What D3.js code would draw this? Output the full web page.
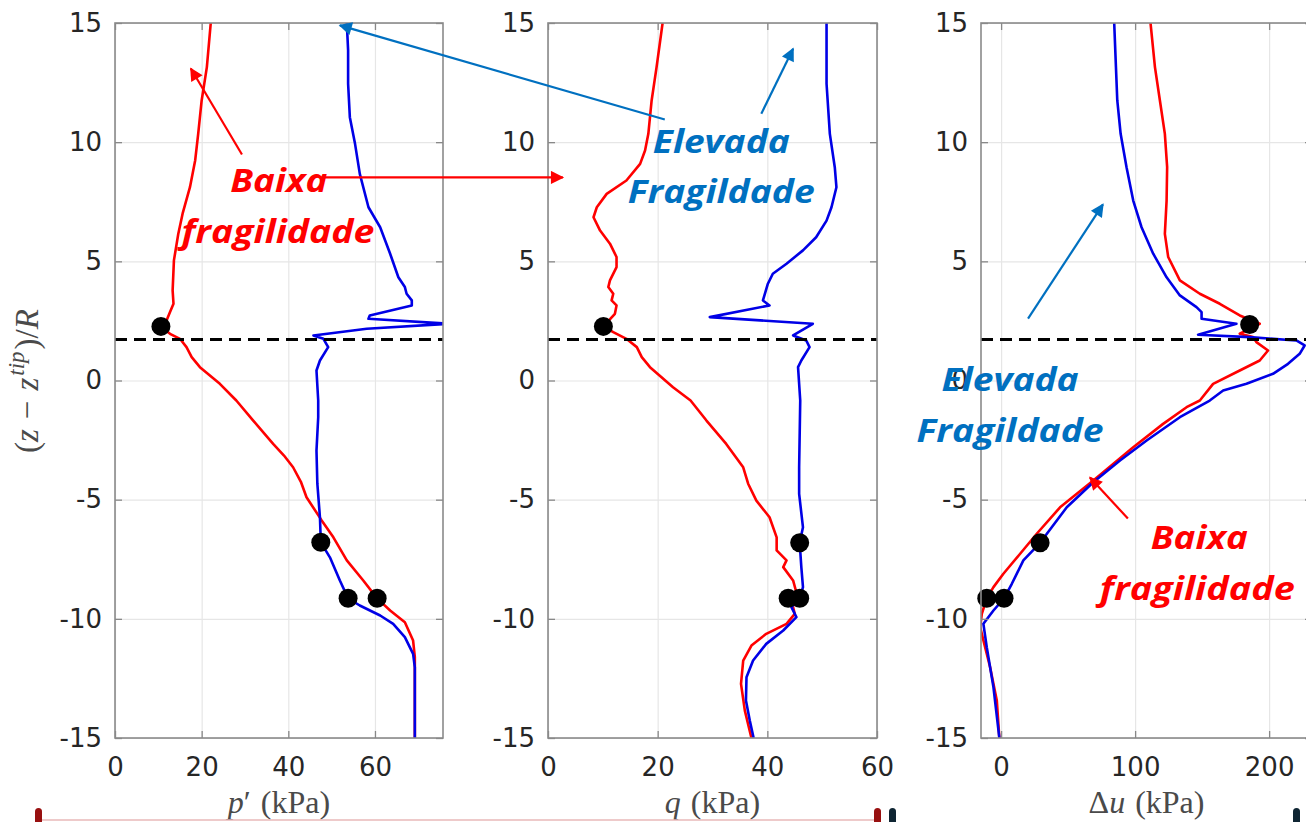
<!DOCTYPE html>
<html>
<head>
<meta charset="utf-8">
<script src="https://cdn.jsdelivr.net/npm/d3@7"></script>
<style>
  html, body { margin: 0; padding: 0; background: #fff; overflow: hidden; }
  svg { display: block; }
</style>
</head>
<body>
<svg id="chart" width="1306" height="822"></svg>
<script>
// ---------------- DATA ----------------
const zTicks = [-15, -10, -5, 0, 5, 10, 15];
const pTicks = [0, 20, 40, 60];
const qTicks = [0, 20, 40, 60];
const duTicks = [0, 100, 200];
const tipLevel = 1.72; // dashed line (z - z_tip)/R

// p' (kPa) vs (z - z_tip)/R : Baixa fragilidade (red)
const pLow = [[22.1,15],[21.2,13.15],[20.0,11.75],[19.2,10.35],[18.5,9.23],[17.3,8.11],[15.6,7.0],[14.6,6.15],[13.6,5.04],[13.3,3.78],[13.5,3.22],[12.7,2.87],[11.9,2.52],[10.6,2.27],[12.7,1.96],[15.0,1.75],[16.5,1.40],[17.7,0.98],[19.6,0.56],[24.2,-0.14],[28.0,-0.84],[31.9,-1.68],[36.5,-2.66],[39.0,-3.15],[41.1,-3.64],[42.9,-4.25],[44.2,-4.9],[47.7,-5.87],[50.4,-6.58],[53.5,-7.55],[57.3,-8.39],[60.5,-9.14],[63.5,-9.65],[66.9,-10.14],[68.8,-10.91],[69.2,-11.61],[69.2,-15]];
// p' : Elevada fragilidade (blue)
const pHigh = [[53.5,15],[53.8,13.85],[53.8,12.45],[54.2,11.05],[55.4,9.93],[56.5,8.67],[58.5,7.27],[61.2,6.43],[63.5,5.32],[65.4,4.33],[66.9,3.92],[67.3,3.64],[68.5,3.36],[68.5,3.15],[58.8,2.73],[58.5,2.59],[77,2.38],[58.1,2.17],[45.8,1.89],[48.1,1.75],[49.2,1.40],[47.3,0.84],[46.5,0.42],[46.9,-0.84],[46.9,-1.54],[46.5,-2.94],[46.7,-4.33],[47.3,-5.74],[47.5,-6.79],[49.6,-7.42],[51.9,-8.39],[53.8,-9.14],[56.5,-9.44],[61.2,-9.86],[64.2,-10.21],[66.9,-10.77],[68.8,-11.47],[69.2,-12.03],[69.2,-15]];
const pMarkers = [[10.6,2.27],[47.5,-6.79],[53.8,-9.14],[60.5,-9.14]];

// q (kPa) : red
const qLow = [[20.9,15],[19.8,13.15],[18.9,11.75],[18.3,10.35],[17.7,9.65],[16.8,9.09],[14.3,8.39],[10.7,7.83],[8.9,7.27],[8.3,6.85],[9.5,6.29],[11.3,5.74],[12.5,5.18],[12.5,4.76],[11.3,4.20],[11.0,3.92],[11.9,3.64],[11.6,3.36],[12.5,3.15],[12.2,2.80],[10.1,2.27],[11.9,2.03],[14.3,1.75],[16.2,1.40],[17.1,0.98],[18.6,0.56],[22.8,-0.28],[26.0,-0.84],[28.9,-1.68],[32.5,-2.66],[35.6,-3.64],[36.5,-4.33],[38.0,-5.04],[40.4,-5.74],[41.7,-6.58],[41.7,-7.13],[43.5,-7.55],[42.9,-7.83],[44.7,-8.39],[45.2,-8.81],[44.4,-9.23],[45.0,-9.79],[43.5,-10.21],[39.8,-10.63],[37.1,-11.12],[35.6,-11.75],[35.2,-12.73],[35.9,-13.85],[37.1,-15]];
// q : blue
const qHigh = [[50.8,15],[50.8,12.45],[51.4,10.35],[52.3,8.95],[52.6,8.11],[51.7,7.27],[50.8,6.71],[48.9,6.01],[46.5,5.46],[43.5,4.90],[41.0,4.48],[40.1,4.06],[39.2,3.36],[40.4,3.15],[29.5,2.66],[48.3,2.38],[44.7,1.89],[47.1,1.68],[47.7,1.40],[46.2,0.84],[45.6,0.56],[46.0,-0.84],[45.9,-2.24],[45.8,-3.64],[45.8,-4.76],[46.5,-6.16],[45.9,-6.81],[46.2,-7.83],[46.5,-8.67],[45.9,-9.14],[44.4,-9.51],[45.3,-9.93],[42.9,-10.49],[39.8,-11.05],[37.4,-11.75],[36.2,-12.45],[36.1,-13.43],[36.8,-14.27],[37.5,-15]];
const qMarkers = [[10.1,2.27],[45.9,-6.81],[43.8,-9.14],[45.9,-9.14]];

// Δu (kPa) : red
const duLow = [[111.5,15],[114.8,13.15],[118.5,11.75],[122.2,10.35],[123.9,8.95],[123.5,7.55],[122.2,6.15],[124.7,5.18],[133.4,4.20],[148.3,3.64],[163.2,3.22],[178.1,2.73],[193.0,2.38],[178.1,1.96],[188.0,1.82],[190.5,1.61],[199.2,1.26],[193.0,0.84],[178.1,0.42],[158.2,-0.14],[148.3,-0.84],[138.4,-1.12],[120.9,-1.82],[98.6,-2.80],[68.8,-4.20],[44.0,-5.32],[26.6,-6.43],[14.2,-7.27],[1.7,-8.11],[-5.7,-8.67],[-10.7,-9.14],[-14.4,-9.79],[-15.6,-10.35],[-13.2,-10.91],[-8.2,-12.03],[-3.2,-13.43],[-1.3,-15]];
// Δu : blue
const duHigh = [[84.4,15],[85.7,13.15],[86.7,11.75],[89.2,10.35],[93.6,8.95],[98.6,7.55],[104.8,6.43],[113.5,5.32],[123.5,4.33],[133.4,3.57],[145.8,3.08],[149.6,2.87],[149.6,2.59],[175.6,2.38],[147.0,1.92],[185.5,1.82],[220.3,1.68],[226.5,1.47],[222.8,1.12],[214.1,0.70],[202.9,0.28],[183.1,-0.14],[165.7,-0.42],[155.7,-0.84],[133.4,-1.54],[108.6,-2.52],[88.7,-3.36],[68.8,-4.27],[49.0,-5.32],[29.1,-6.81],[16.6,-7.55],[8.0,-8.53],[2.2,-9.14],[-5.7,-9.65],[-13.2,-10.21],[-10.7,-11.19],[-5.7,-12.87],[-1.3,-15]];
const duMarkers = [[185.5,2.35],[29.1,-6.81],[-10.7,-9.14],[2.2,-9.14]];

// annotations (panel index, x value, z value)
const annoTexts = [
  {panel:0, x:37.8, z:7.89, text:"Baixa", color:"red", w:97},
  {panel:0, x:37.6, z:5.79, text:"fragilidade", color:"red", w:193},
  {panel:1, x:31.6, z:9.53, text:"Elevada", color:"blue", w:137},
  {panel:1, x:31.6, z:7.43, text:"Fragildade", color:"blue", w:187},
  {panel:2, x:6.7, z:-0.42, text:"Elevada", color:"blue", w:137},
  {panel:2, x:6.7, z:-2.60, text:"Fragildade", color:"blue", w:187},
  {panel:2, x:147.9, z:-7.05, text:"Baixa", color:"red", w:97},
  {panel:2, x:146.4, z:-9.23, text:"fragilidade", color:"red", w:195}
];
const annoArrows = [
  {from:[0,29.3,9.48], to:[0,17.5,13.09], color:"red"},
  {from:[0,47.8,8.52], to:[1,2.7,8.52], color:"red"},
  {from:[1,21.3,10.95], to:[0,51.9,14.9], color:"blue"},
  {from:[1,38.9,11.19], to:[1,44.7,13.92], color:"blue"},
  {from:[2,20.1,2.60], to:[2,76.0,7.39], color:"blue"},
  {from:[2,94.6,-5.79], to:[2,66.3,-4.07], color:"red"}
];

// ---------------- LAYOUT / STYLE ----------------
const COL = {red:"#ff0000", blue:"#0000e6", annRed:"#ff0000", annBlue:"#0070c0"};
const yTop = 23, yBot = 738;
const y = d3.scaleLinear().domain([-15, 15]).range([yBot, yTop]);

const panels = [
  {x0:115, x1:443, domain:[0, 75.7], ticks:pTicks, low:pLow, high:pHigh, markers:pMarkers, label:"p"},
  {x0:548, x1:877, domain:[0, 60], ticks:qTicks, low:qLow, high:qHigh, markers:qMarkers, label:"q"},
  {x0:981, x1:1312, domain:[-15, 232], ticks:duTicks, low:duLow, high:duHigh, markers:duMarkers, label:"du"}
];
panels.forEach(p => p.x = d3.scaleLinear().domain(p.domain).range([p.x0, p.x1]));

const svg = d3.select("#chart");
const defs = svg.append("defs");
["red","blue"].forEach(c => {
  defs.append("marker").attr("id","ah-"+c)
    .attr("viewBox","0 0 10 10").attr("refX",9).attr("refY",5)
    .attr("markerWidth",7).attr("markerHeight",6).attr("markerUnits","strokeWidth")
    .attr("orient","auto")
    .append("path").attr("d","M0,0 L10,5 L0,10 z")
    .attr("fill", c === "red" ? COL.annRed : COL.annBlue);
});

const fmt = d => String(d); // plain hyphen-minus like the reference

panels.forEach((p, i) => {
  const g = svg.append("g");
  defs.append("clipPath").attr("id","clip"+i)
    .append("rect").attr("x",p.x0).attr("y",yTop).attr("width",p.x1-p.x0).attr("height",yBot-yTop);

  // grid
  const gx = g.append("g").attr("transform",`translate(0,${yBot})`)
    .call(d3.axisBottom(p.x).tickValues(p.ticks).tickSize(-(yBot-yTop)).tickFormat(""));
  const gy = g.append("g").attr("transform",`translate(${p.x0},0)`)
    .call(d3.axisLeft(y).tickValues(zTicks).tickSize(-(p.x1-p.x0)).tickFormat(""));
  [gx, gy].forEach(a => { a.select(".domain").remove(); a.selectAll("line").attr("stroke","#e6e6e6").attr("stroke-width",1.2); });

  // curves
  const line = d3.line().x(d => p.x(d[0])).y(d => y(d[1]));
  const cg = g.append("g").attr("clip-path",`url(#clip${i})`);
  cg.append("path").datum(p.low).attr("d",line).attr("fill","none")
    .attr("stroke",COL.red).attr("stroke-width",2.6).attr("stroke-linejoin","round");
  cg.append("path").datum(p.high).attr("d",line).attr("fill","none")
    .attr("stroke",COL.blue).attr("stroke-width",2.6).attr("stroke-linejoin","round");

  // dashed tip line
  g.append("line").attr("x1",p.x0).attr("x2",p.x1).attr("y1",y(tipLevel)).attr("y2",y(tipLevel))
    .attr("stroke","#000").attr("stroke-width",3.2).attr("stroke-dasharray","12,7");

  // markers
  g.selectAll("circle.m").data(p.markers).join("circle").attr("class","m")
    .attr("cx",d => p.x(d[0])).attr("cy",d => y(d[1])).attr("r",9.5).attr("fill","#000");

  // axes
  const ax = g.append("g").attr("transform",`translate(0,${yBot})`)
    .call(d3.axisBottom(p.x).tickValues(p.ticks).tickSize(-7).tickPadding(20).tickFormat(fmt));
  const ay = g.append("g").attr("transform",`translate(${p.x0},0)`)
    .call(d3.axisLeft(y).tickValues(zTicks).tickSize(-7).tickPadding(13).tickFormat(fmt));
  const at = g.append("g").attr("transform",`translate(0,${yTop})`)
    .call(d3.axisTop(p.x).tickValues(p.ticks).tickSize(-7).tickFormat(""));
  const ar = g.append("g").attr("transform",`translate(${p.x1},0)`)
    .call(d3.axisRight(y).tickValues(zTicks).tickSize(-7).tickFormat(""));
  [ax, ay, at, ar].forEach(a => {
    a.select(".domain").remove();
    a.selectAll("line").attr("stroke","#888").attr("stroke-width",1.3);
    a.selectAll("text").attr("fill","#262626").style("font-family","'DejaVu Sans', sans-serif").style("font-size","26px");
  });
  g.append("rect").attr("x",p.x0).attr("y",yTop).attr("width",p.x1-p.x0).attr("height",yBot-yTop)
    .attr("fill","none").attr("stroke","#8a8a8a").attr("stroke-width",1.6);

  // x label
  const cx = (p.x0 + Math.min(p.x1, 1313)) / 2;
  const t = svg.append("text").attr("x",cx).attr("y",813).attr("text-anchor","middle")
    .attr("fill","#4a4a4a").style("font-family","'Liberation Serif', serif").style("font-size","32px");
  if (p.label === "p") {
    t.append("tspan").style("font-style","italic").text("p");
    t.append("tspan").text("\u2032");
    t.append("tspan").attr("dx",10).text("(kPa)");
  } else if (p.label === "q") {
    t.append("tspan").style("font-style","italic").text("q");
    t.append("tspan").attr("dx",10).text("(kPa)");
  } else {
    t.append("tspan").text("\u0394");
    t.append("tspan").style("font-style","italic").text("u");
    t.append("tspan").attr("dx",10).text("(kPa)");
  }
});

// y label
const yl = svg.append("text").attr("transform","translate(38,381) rotate(-90)").attr("text-anchor","middle")
  .attr("fill","#4a4a4a").style("font-family","'Liberation Serif', serif").style("font-size","33px");
yl.append("tspan").text("(");
yl.append("tspan").style("font-style","italic").text("z");
yl.append("tspan").attr("dx",10).text("\u2212");
yl.append("tspan").attr("dx",10).style("font-style","italic").text("z");
yl.append("tspan").attr("dx",2).style("font-style","italic").style("font-size","23px").attr("dy",-14).text("tip");
yl.append("tspan").attr("dx",2).attr("dy",14).text(")/");
yl.append("tspan").style("font-style","italic").text("R");

// annotation arrows
function pt(a){ const p = panels[a[0]]; return [p.x(a[1]), y(a[2])]; }
annoArrows.forEach(a => {
  const f = pt(a.from), t = pt(a.to);
  svg.append("line").attr("x1",f[0]).attr("y1",f[1]).attr("x2",t[0]).attr("y2",t[1])
    .attr("stroke", a.color === "red" ? COL.annRed : COL.annBlue).attr("stroke-width",2.2)
    .attr("marker-end",`url(#ah-${a.color})`);
});

// annotation texts
annoTexts.forEach(a => {
  const p = panels[a.panel];
  svg.append("text").attr("x",p.x(a.x)).attr("y",y(a.z)).attr("text-anchor","middle")
    .attr("fill", a.color === "red" ? COL.annRed : COL.annBlue)
    .attr("textLength",a.w).attr("lengthAdjust","spacingAndGlyphs")
    .style("font-family","'Open Sans', sans-serif").style("font-weight","700").style("font-style","italic")
    .style("font-size","33px").text(a.text);
});

// bottom slide decorations
svg.append("line").attr("x1",40).attr("x2",875).attr("y1",820).attr("y2",820).attr("stroke","#e8b8b8").attr("stroke-width",1.5);
[[35,"#981010"],[874,"#981010"],[889,"#0f2533"],[1293,"#0f2533"]].forEach(d => {
  svg.append("rect").attr("x",d[0]).attr("y",808).attr("width",7).attr("height",20).attr("rx",3.5).attr("fill",d[1]);
});
</script>
</body>
</html>
